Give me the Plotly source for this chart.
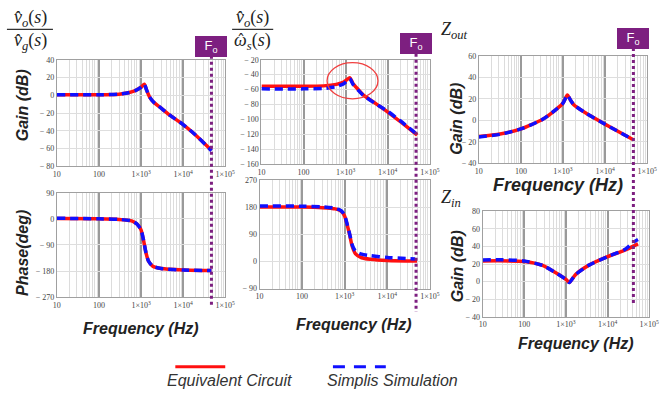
import math
import plotly.graph_objects as go

W, H = 666, 403

# ---- data -----------------------------------------------------------------
FO = 47000  # switching-related frequency marker F_o (Hz)

# v_o / v_g : gain (dB)
vg_gain_f = [10, 100, 300, 500, 750, 1000, 1200, 1350, 1600, 2000, 3000, 5000, 10000, 20000, 47000]
vg_gain_eq = [0.5, 0.5, 1.2, 2.8, 5.5, 9, 12.5, 6, -2, -8, -14.5, -23, -33, -45, -62]
vg_gain_sim = [0.5, 0.5, 1.2, 2.8, 5.5, 9, 12.3, 6, -2, -8, -14.5, -23, -33, -45, -62.5]

# v_o / v_g : phase (deg)
vg_phase_f = [10, 100, 300, 600, 800, 1000, 1150, 1300, 1500, 1900, 3000, 10000, 47000]
vg_phase_eq = [1, 0, -2, -7, -18, -38, -75, -115, -145, -163, -171, -176, -178]
vg_phase_sim = [2, 0, -2, -7, -18, -38, -75, -115, -145, -163, -171, -176, -178]

# v_o / w_s : gain (dB)
ws_gain_f_eq = [10, 100, 300, 600, 900, 1250, 1500, 2000, 2600, 5000, 10000, 20000, 50000]
ws_gain_eq = [-55.5, -55.5, -55, -53, -50, -44, -52, -60, -67, -78, -90, -103, -121]
ws_gain_f_sim = [10, 100, 300, 600, 900, 1250, 1500, 2000, 2600, 5000, 10000, 20000, 45000]
ws_gain_sim = [-59, -59, -58.5, -56, -52, -45.5, -53, -61, -67.5, -78.5, -89, -102, -118]

# v_o / w_s : phase (deg)
ws_phase_f_eq = [10, 100, 300, 600, 850, 1000, 1150, 1300, 1500, 1800, 2500, 4000, 10000, 50000]
ws_phase_eq = [180, 180, 178, 174, 165, 150, 120, 90, 50, 25, 12, 7, 3, 1]
ws_phase_f_sim = [10, 100, 300, 600, 850, 1000, 1150, 1300, 1500, 1800, 2500, 4000, 10000, 45000]
ws_phase_sim = [184, 183, 181, 176, 167, 152, 122, 93, 55, 33, 24, 19, 13, 8]

# Z_out : gain (dB)
zout_f = [10, 32, 100, 330, 680, 1000, 1270, 1500, 1800, 3400, 10000, 47000]
zout_eq = [-15, -12.7, -8, 1, 10, 16, 23.6, 19, 14.5, 7, -3.6, -18]
zout_sim = [-15.5, -13, -8, 1, 10, 16, 23.3, 19, 14.5, 7, -3.6, -18]

# Z_in : gain (dB)
zin_f_eq = [10, 100, 275, 570, 1000, 1200, 1700, 3500, 10000, 26000, 54000]
zin_eq = [23.6, 23, 18.5, 10, 2.6, -1, 8, 18.5, 28.4, 35.8, 43]
zin_f_sim = [10, 30, 100, 275, 570, 1000, 1200, 1700, 3500, 10000, 26000, 42000, 54000]
zin_sim = [24.7, 25, 23.5, 18.5, 10, 2.6, -1, 8, 18.5, 28.4, 36.5, 45, 48]

freq_ticks = [10, 100, 1000, 10000, 100000]
freq_labels = ["10", "100", "1×10<sup>3</sup>", "1×10<sup>4</sup>", "1×10<sup>5</sup>"]

RED = "#ff1010"
BLUE = "#1010ff"
PURPLE = "#7d1f80"

# ---- helpers --------------------------------------------------------------
def px_x(a, b):
    return [a / W, b / W]


def px_y(top, bottom):
    return [1 - bottom / H, 1 - top / H]


def py(v):
    return 1 - v / H


def ylabels(lo, hi, step):
    vals = list(range(lo, hi + 1, step))
    txt = [("− " + str(-v)) if v < 0 else str(v) for v in vals]
    return vals, txt


fig = go.Figure()

panels = [
    # (axis suffix, x px span, y px span, y range, y step)
    ("", (54, 226), (57, 166), (-80, 40), 20),
    ("2", (54, 226), (193, 300), (-270, 90), 90),
    ("3", (263, 435), (57, 164), (-160, -20), 20),
    ("4", (261, 435), (180, 291), (-90, 270), 90),
    ("5", (485, 657), (53, 163), (-40, 60), 20),
    ("6", (489, 659), (212, 320), (-40, 80), 20),
]

tick_font = dict(family="Liberation Serif", size=8, color="#444")

layout_axes = {}
for suf, xs, ys, yr, ystep in panels:
    yv, yt = ylabels(yr[0], yr[1], ystep)
    layout_axes["xaxis" + suf] = dict(
        type="log", range=[1, 5], domain=px_x(*xs),
        anchor="y" + suf,
        tickvals=freq_ticks, ticktext=freq_labels, tickfont=tick_font,
        showgrid=True, gridcolor="#9a9a9a", gridwidth=1.6,
        minor=dict(showgrid=True, gridcolor="#dcdcdc", gridwidth=1, dtick="D1"),
        showline=True, linecolor="#a0a0a0", linewidth=1, mirror=True,
        ticks="", zeroline=False, fixedrange=True,
    )
    layout_axes["yaxis" + suf] = dict(
        range=list(yr), domain=px_y(*ys), anchor="x" + suf,
        tickvals=yv, ticktext=yt, tickfont=tick_font,
        showgrid=True, gridcolor="#dedede", gridwidth=1,
        showline=True, linecolor="#a0a0a0", linewidth=1, mirror=True,
        ticks="", zeroline=False, fixedrange=True,
    )

series = [
    ("", vg_gain_f, vg_gain_eq, vg_gain_f, vg_gain_sim),
    ("2", vg_phase_f, vg_phase_eq, vg_phase_f, vg_phase_sim),
    ("3", ws_gain_f_eq, ws_gain_eq, ws_gain_f_sim, ws_gain_sim),
    ("4", ws_phase_f_eq, ws_phase_eq, ws_phase_f_sim, ws_phase_sim),
    ("5", zout_f, zout_eq, zout_f, zout_sim),
    ("6", zin_f_eq, zin_eq, zin_f_sim, zin_sim),
]

for suf, fe, ve, fs, vs in series:
    xa, ya = "x" + suf, "y" + suf
    fig.add_trace(go.Scatter(
        x=fe, y=ve, xaxis=xa, yaxis=ya, mode="lines",
        line=dict(color=RED, width=3.5, shape="spline", smoothing=0.6),
        name="Equivalent Circuit", showlegend=False, cliponaxis=False))
    fig.add_trace(go.Scatter(
        x=fs, y=vs, xaxis=xa, yaxis=ya, mode="lines",
        line=dict(color=BLUE, width=3.5, dash="8px,5px", shape="spline", smoothing=0.6),
        name="Simplis Simulation", showlegend=False, cliponaxis=False))

shapes = []
annotations = []

# F_o markers: dotted vertical line plus a labelled badge above each top plot
for xref, top, bottom, badge_y in [("x", 53, 310, 43), ("x3", 51, 315, 40), ("x5", 45, 308, 35)]:
    shapes.append(dict(type="line", xref=xref, yref="paper", x0=FO, x1=FO,
                       y0=py(top), y1=py(bottom),
                       line=dict(color=PURPLE, width=3, dash="dot")))
    annotations.append(dict(xref=xref, yref="paper", x=math.log10(FO), y=py(badge_y),
                            text="F<sub>o</sub>", showarrow=False,
                            font=dict(family="Arial", size=13, color="white"),
                            bgcolor=PURPLE, bordercolor=PURPLE, borderwidth=1,
                            width=28, height=17, xanchor="center", yanchor="middle"))

# highlight around the resonance of v_o/w_s
shapes.append(dict(type="circle", xref="paper", yref="paper",
                   x0=330 / W, x1=382 / W, y0=py(97), y1=py(60),
                   line=dict(color="#f04040", width=1.3)))

# transfer-function headings
serif_i = dict(family="Liberation Serif", size=18, color="#222")
for cx, num, den, x0, x1 in [
    (27, "<i>v̂<sub>o</sub></i>(<i>s</i>)", "<i>v̂<sub>g</sub></i>(<i>s</i>)", 3, 50),
    (254, "<i>v̂<sub>o</sub></i>(<i>s</i>)", "<i>ω<sub>s</sub></i>(<i>s</i>)", 233, 275),
]:
    annotations.append(dict(xref="paper", yref="paper", x=cx / W, y=py(15), text=num,
                            showarrow=False, font=serif_i, xanchor="center", yanchor="middle"))
    annotations.append(dict(xref="paper", yref="paper", x=cx / W, y=py(38), text=den,
                            showarrow=False, font=serif_i, xanchor="center", yanchor="middle"))
    shapes.append(dict(type="line", xref="paper", yref="paper", x0=x0 / W, x1=x1 / W,
                       y0=py(26), y1=py(26), line=dict(color="#333", width=1.2)))
# hat over the omega of the second heading
annotations.append(dict(xref="paper", yref="paper", x=242 / W, y=py(37), text="ˆ",
                        showarrow=False, font=dict(family="DejaVu Serif", size=16, color="#222"),
                        xanchor="center", yanchor="middle"))

for y, txt in [(27, "<i>Z<sub>out</sub></i>"), (199, "<i>Z<sub>in</sub></i>")]:
    annotations.append(dict(xref="paper", yref="paper", x=444 / W, y=py(y), text=txt,
                            showarrow=False, font=dict(family="Liberation Serif", size=18, color="#222"),
                            xanchor="left", yanchor="middle"))

# axis titles
bold_i = dict(family="Arial", size=16, color="#222")
for x, y, txt in [(19, 104, "Gain (dB)"), (19, 255, "Phase(deg)"),
                  (462, 117, "Gain (dB)"), (463, 268, "Gain (dB)")]:
    annotations.append(dict(xref="paper", yref="paper", x=x / W, y=py(y),
                            text="<b><i>" + txt + "</i></b>", textangle=-90,
                            showarrow=False, font=bold_i, xanchor="center", yanchor="middle"))
for x, y, size in [(140, 332, 16), (358, 328, 16), (566, 185, 18), (584, 347, 16)]:
    annotations.append(dict(xref="paper", yref="paper", x=x / W, y=py(y),
                            text="<b><i>Frequency (Hz)</i></b>", showarrow=False,
                            font=dict(family="Arial", size=size, color="#222"),
                            xanchor="center", yanchor="middle"))

# legend
shapes.append(dict(type="line", xref="paper", yref="paper", x0=175 / W, x1=226 / W,
                   y0=py(371), y1=py(371), line=dict(color=RED, width=3)))
shapes.append(dict(type="line", xref="paper", yref="paper", x0=336 / W, x1=390 / W,
                   y0=py(371), y1=py(371), line=dict(color=BLUE, width=3, dash="12px,9px")))
for x, txt in [(230, "Equivalent Circuit"), (397, "Simplis Simulation")]:
    annotations.append(dict(xref="paper", yref="paper", x=x / W, y=py(385),
                            text="<i>" + txt + "</i>", showarrow=False,
                            font=dict(family="Arial", size=16, color="#333"),
                            xanchor="center", yanchor="middle"))

fig.update_layout(
    width=W, height=H, margin=dict(l=0, r=0, t=0, b=0),
    paper_bgcolor="white", plot_bgcolor="white",
    showlegend=False, shapes=shapes, annotations=annotations,
    **layout_axes,
)

fig.write_html("out.html")
